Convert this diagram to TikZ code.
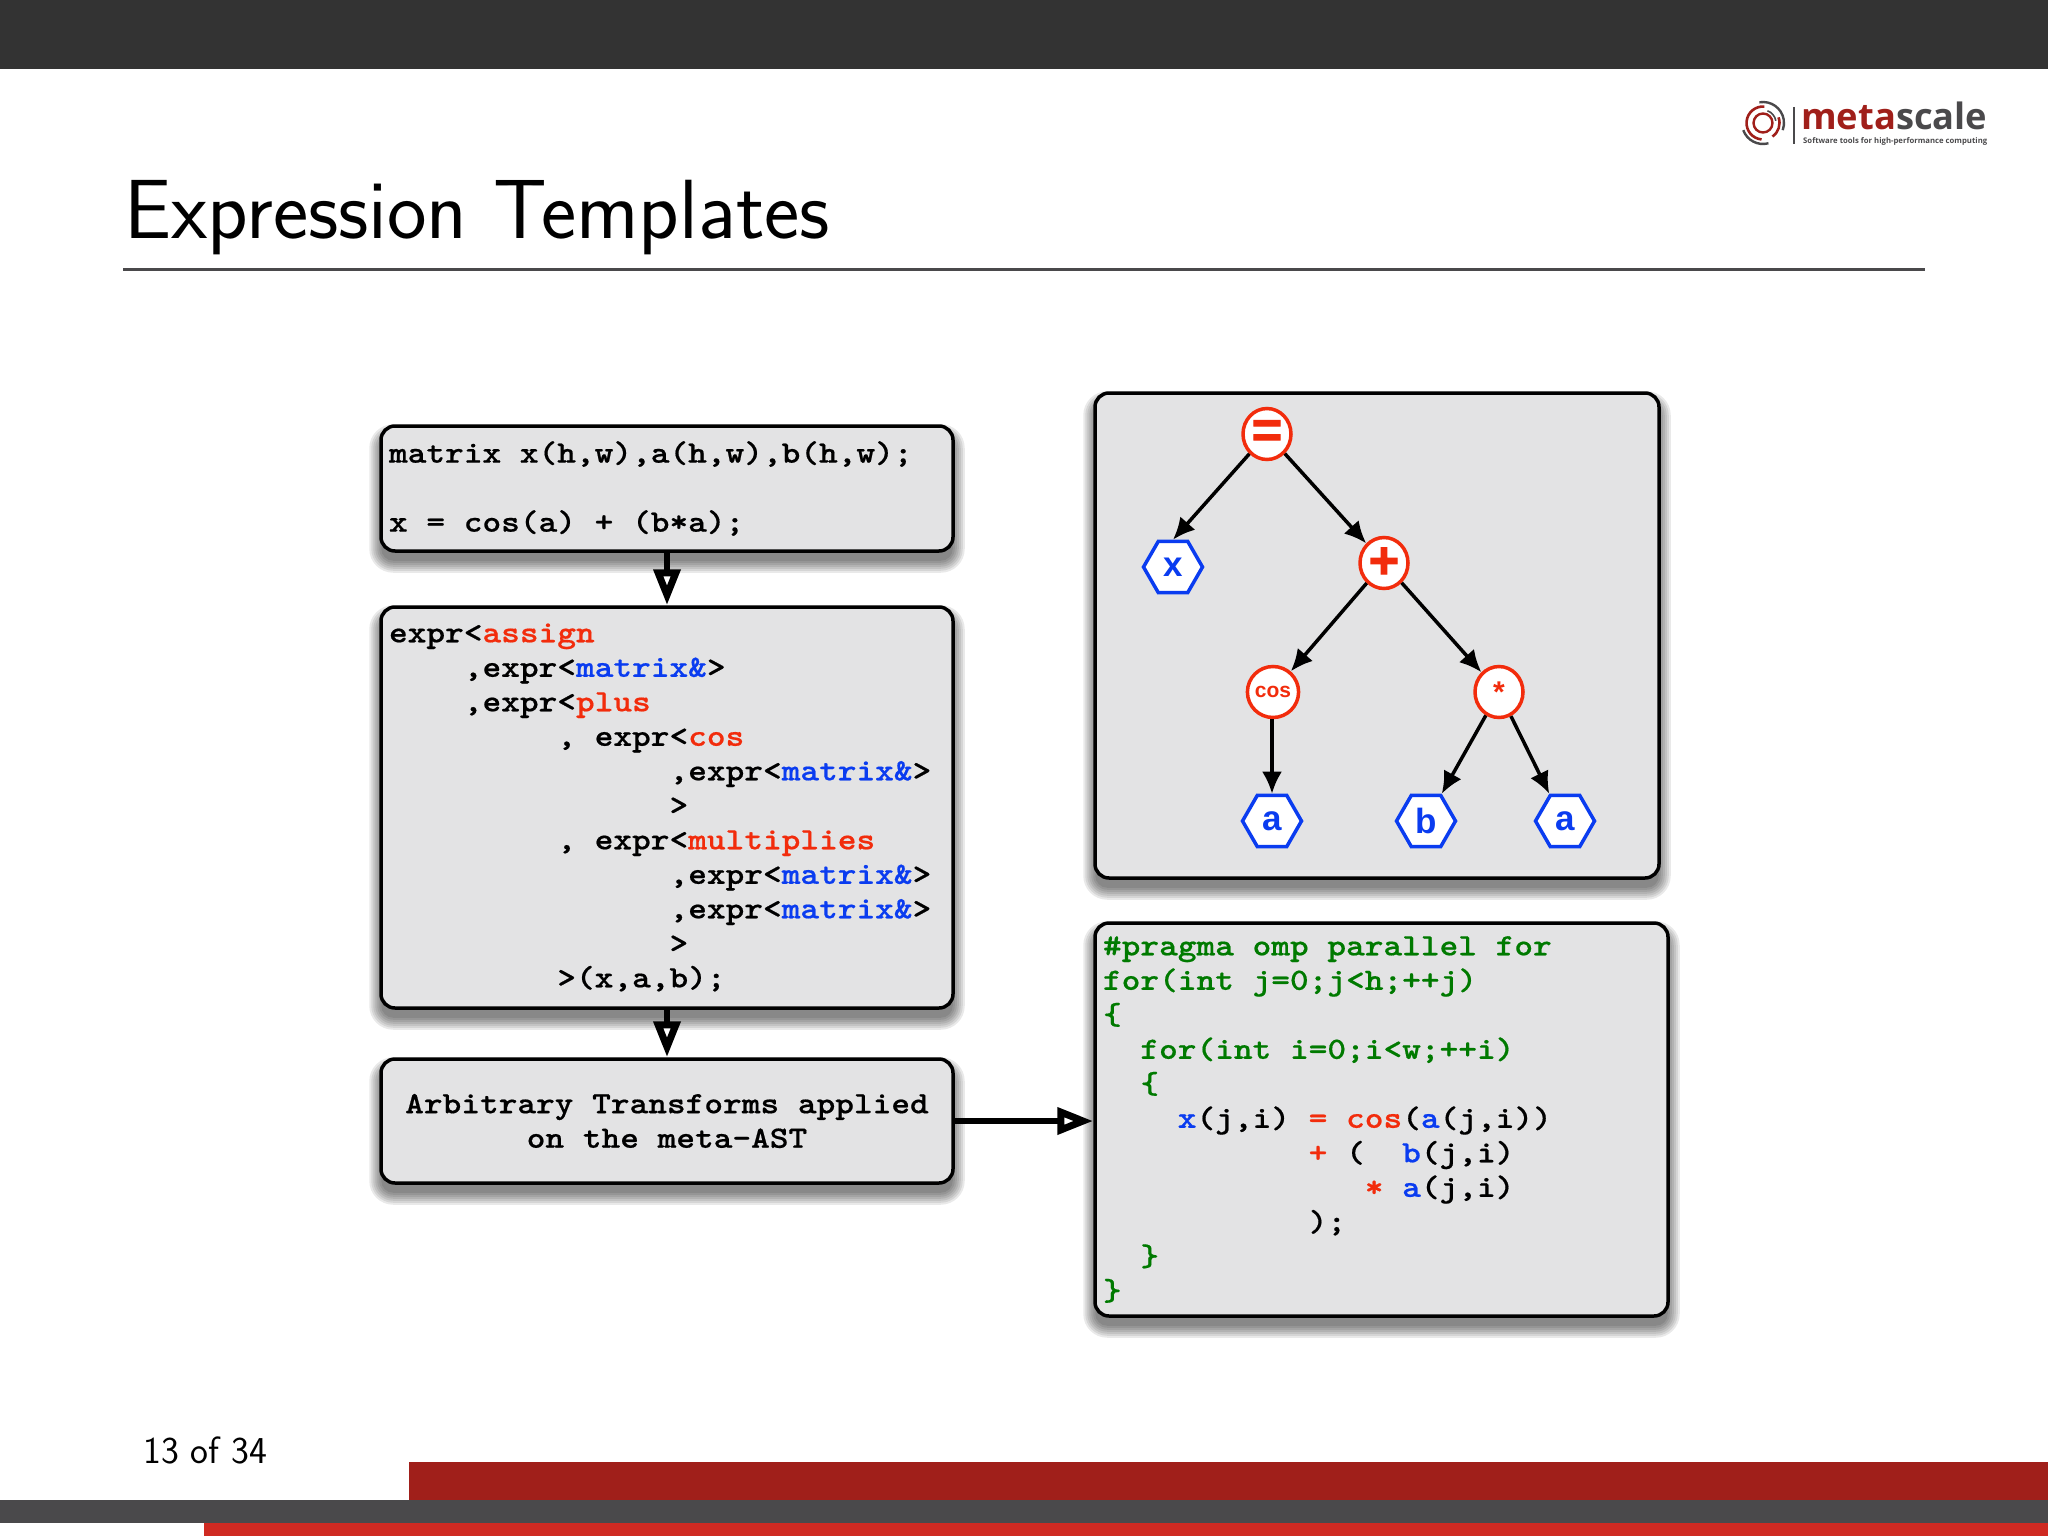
\documentclass[tikz,border=0pt]{standalone}
\usepackage{fontspec}
\usepackage{graphicx}
\usetikzlibrary{arrows.meta,shapes.geometric,calc,backgrounds}
\newfontfamily\codefont[Extension=.otf,FakeStretch=1.149,FakeBold=0.5]{lmmonolt10-bold}
\newfontfamily\helv{Liberation Sans}
\newfontfamily\helvop[FakeBold=2]{Liberation Sans Bold}
\newfontfamily\logofont{Open Sans}
\definecolor{gbox}{HTML}{E3E3E4}
\definecolor{cred}{HTML}{F22C0C}
\definecolor{cblue}{HTML}{0A3CF0}
\definecolor{cgreen}{HTML}{007A00}
\definecolor{topbar}{HTML}{333333}
\definecolor{midbar}{HTML}{4A494B}
\definecolor{darkred}{HTML}{A01F1A}
\definecolor{brightred}{HTML}{CF2A22}
\newcommand{\R}[1]{\textcolor{cred}{#1}}
\newcommand{\B}[1]{\textcolor{cblue}{#1}}
\newcommand{\K}[1]{\textcolor{black}{#1}}
\newcommand{\I}[1]{\hspace*{#1\dimexpr 18.7pt\relax}}
\newcommand{\softshadow}[1]{%
  \foreach \s in {10,8,6,4,2,0,-2}{%
    \fill[black,opacity=.085,rounded corners={14pt+\s pt}]
      ($(#1.south west)+(-\s,10+\s)$) rectangle ($(#1.north east)+(\s,10-\s)$);
  }}
\tikzset{
  x=1pt,y=-1pt,
  codebox/.style={draw=black,line width=3.5pt,fill=gbox,rounded corners=14pt,inner xsep=8pt,inner ysep=0pt,
    font=\codefont\fontsize{31}{34.5}\selectfont},
  opnode/.style={ellipse,draw=cred,line width=3.5pt,fill=white,text=cred,inner sep=0pt,minimum width=48pt,minimum height=51pt},
  leaf/.style={regular polygon,regular polygon sides=6,draw=cblue,line width=3.5pt,fill=white,text=cblue,inner sep=0pt,minimum size=59pt,
    font=\helv\bfseries\fontsize{35}{35}\selectfont},
  treearrow/.style={line width=3.5pt,-{Latex[length=22pt,width=20pt]}},
  flowarrow/.style={line width=6.5pt,-{Triangle[open,fill=white,length=36pt,width=26pt,line width=7pt]}},
  plain/.style={inner sep=0pt,anchor=base west}
}
\begin{document}
\begin{tikzpicture}
\useasboundingbox (0,0) rectangle (2048,1536);
% slide frame
\fill[topbar] (0,0) rectangle (2048,69);
\fill[darkred] (409,1462) rectangle (2048,1500);
\fill[midbar] (0,1500) rectangle (2048,1523);
\fill[brightred] (204,1523) rectangle (2048,1536);
\draw[midbar,line width=3pt] (123,269) -- (1925,269);
\node[plain] (title) at (124,238) {\fontsize{84}{84}\selectfont\sffamily Expression Templates};
\node[plain] (pageno) at (143,1463) {\fontsize{38}{38}\selectfont\sffamily 13 of 34};
% logo
\begin{scope}[shift={(1763,123)}]
  \draw[midbar,line width=2.4pt] (100:21pt) arc[start angle=100,end angle=-20,radius=21pt];
  \draw[midbar,line width=2.4pt] (200:21pt) arc[start angle=200,end angle=285,radius=21pt];
  \draw[darkred,line width=2.6pt] (85:16.5pt) arc[start angle=85,end angle=265,radius=16.5pt];
  \draw[darkred,line width=2.6pt] (-55:16.5pt) arc[start angle=-55,end angle=20,radius=16.5pt];
  \draw[midbar,line width=1.6pt] (70:13pt) arc[start angle=70,end angle=10,radius=13pt];
  \draw[darkred,line width=2.4pt] (0,0) circle[radius=9.5pt];
\end{scope}
\draw[midbar,line width=1.4pt] (1794,107) -- (1794,144);
\node[plain] (logoname) at (1801,130) {\resizebox{186pt}{!}{\logofont\bfseries\textcolor{darkred}{meta}\textcolor{midbar}{scale}}};
\node[plain] (logosub) at (1803,143) {\resizebox{184pt}{!}{\logofont\bfseries\textcolor{midbar}{Software tools for high-performance computing}}};
% code boxes
\tikzset{every node/.append style={execute at begin node={\spaceskip=18.7pt\relax}}}
\node[codebox,align=left,text width=556pt,minimum height=125pt] (src) at (667,488.5) {%
matrix x(h,w),a(h,w),b(h,w);\\
\mbox{}\\
x = cos(a) + (b*a);};
\node[codebox,align=left,text width=556pt,minimum height=401pt] (ast) at (667,807.5) {%
expr<\R{assign}\\
\I{4},expr<\B{matrix\&}>\\
\I{4},expr<\R{plus}\\
\I{9}, expr<\R{cos}\\
\I{15},expr<\B{matrix\&}>\\
\I{15}>\\
\I{9}, expr<\R{multiplies}\\
\I{15},expr<\B{matrix\&}>\\
\I{15},expr<\B{matrix\&}>\\
\I{15}>\\
\I{9}>(x,a,b);};
\node[codebox,align=center,text width=556pt,minimum height=124pt] (trans) at (667,1121) {%
Arbitrary Transforms applied\\on the meta-AST};
\node[codebox,minimum width=564pt,minimum height=485pt] (treebox) at (1377,635.5) {};
\node[codebox,align=left,text width=557pt,minimum height=393pt,text=cgreen] (gen) at (1381.5,1119.5) {%
\#pragma omp parallel for\\
for(int j=0;j<h;++j)\\
\{\\
\I{2}for(int i=0;i<w;++i)\\
\I{2}\{\\
\I{4}\B{x}\K{(j,i)}\I{1}\R{=}\I{1}\R{cos}\K{(}\B{a}\K{(j,i))}\\
\I{11}\R{+}\I{1}\K{(}\I{2}\B{b}\K{(j,i)}\\
\I{14}\R{*}\I{1}\B{a}\K{(j,i)}\\
\I{11}\K{);}\\
\I{2}\}\\
\}};
\tikzset{every node/.style={}}
% tree
\node[opnode,font=\helvop\fontsize{52}{52}\selectfont] (eq) at (1267,434) {=};
\node[opnode,font=\helvop\fontsize{52}{52}\selectfont] (plus) at (1384,563) {+};
\node[opnode,font=\helv\bfseries\fontsize{21}{21}\selectfont] (cos) at (1273,692) {cos};
\node[opnode,font=\helv\bfseries\fontsize{30}{30}\selectfont] (star) at (1499,692) {*};
\node[leaf] (lx) at (1173,567) {x};
\node[leaf] (la) at (1272,821) {a};
\node[leaf] (lb) at (1426,821) {b};
\node[leaf] (lc) at (1565,821) {a};
\draw[treearrow] (eq) -- (lx.north);
\draw[treearrow] (eq) -- (plus);
\draw[treearrow] (plus) -- (cos);
\draw[treearrow] (plus) -- (star);
\draw[treearrow] (cos.south -| la.north) -- (la.north);
\draw[treearrow] (star) -- (lb.60);
\draw[treearrow] (star) -- (lc.120);
% flow
\draw[flowarrow] (src) -- (ast);
\draw[flowarrow] (ast) -- (trans);
\draw[flowarrow] (trans.east) -- (trans.east -| gen.west);
\begin{pgfonlayer}{background}
  \softshadow{src}\softshadow{ast}\softshadow{trans}\softshadow{treebox}\softshadow{gen}
\end{pgfonlayer}
\end{tikzpicture}
\end{document}
